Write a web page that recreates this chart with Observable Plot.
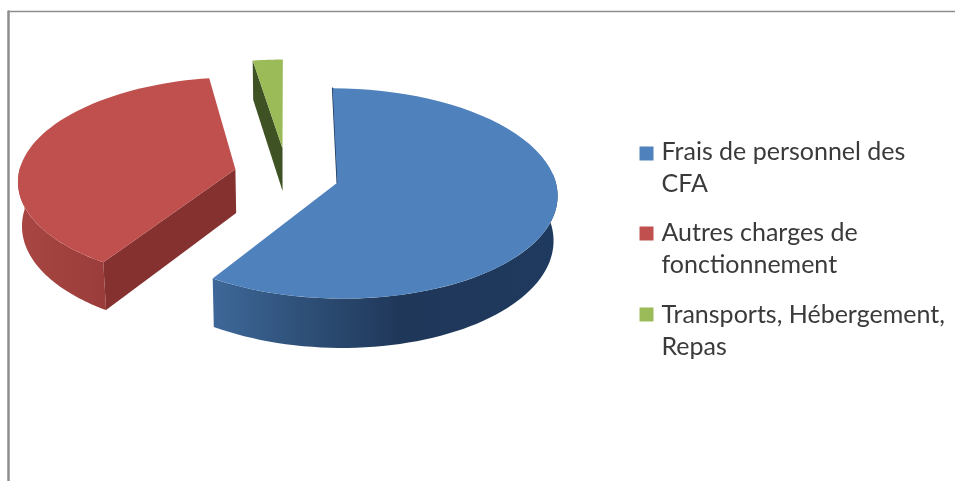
<!DOCTYPE html>
<html><head><meta charset="utf-8">
<script src="https://cdn.jsdelivr.net/npm/d3@7"></script>
<script src="https://cdn.jsdelivr.net/npm/@observablehq/plot@0.6"></script>
<style>html,body{margin:0;padding:0;background:#fff}svg{display:block;filter:blur(0.5px)}</style>
</head><body><div id="chart"></div>
<script>
const categories = ["Frais de personnel des\nCFA", "Autres charges de\nfonctionnement", "Transports, Hébergement,\nRepas"];
const shares = [59.1, 38.4, 2.5];
const topColors = ["#4f81bd", "#c0504d", "#9bbb59"];

// Camera of the 3D pie: a disk seen in perspective
const view = {cx: 286, cy: 174.5, ax: 217, ky: 102.5, p: 0.10, depth: 44, shrink: 0.985, ex: 0.242, ey: 0.27};
const legendX = 646, legendTextX = 661, legendY = [153, 233, 314], legendTextY = [154, 235, 317];

const total = d3.sum(shares);
let acc = 0;
const slices = shares.map((v, i) => {
  const a = acc / total * 360; acc += v; const b = acc / total * 360;
  return {i, a, b, mid: (a + b) / 2};
});
const rad = d => d * Math.PI / 180;
function pt(s, deg, r, z) {
  const X = view.ex * Math.sin(rad(s.mid)) + r * Math.sin(rad(deg));
  const Y = -view.ey * Math.cos(rad(s.mid)) - r * Math.cos(rad(deg));
  const w = 1 - view.p * Y;
  let x = view.ax * X / w, y = view.cy + view.ky * Y / w;
  if (z) { x *= view.shrink; y += view.depth / w; }
  return {x: view.cx + x, y};
}
const arc = (s, a, b, z) => d3.range(0, 61).map(k => pt(s, a + (b - a) * k / 60, 1, z));
const topFace = s => [pt(s, 0, 0, 0), ...arc(s, s.a, s.b, 0)];
const outerSide = (s, a, b) => [...arc(s, a, b, 0), ...arc(s, a, b, 1).reverse()];
const radial = (s, deg) => [pt(s, deg, 0, 0), pt(s, deg, 1, 0), pt(s, deg, 1, 1), pt(s, deg, 0, 1)];
const [blue, red, green] = slices;

const defs = () => {
  const svg = d3.create("svg:defs");
  const grad = (id, stops) => {
    const g = svg.append("linearGradient").attr("id", id).attr("x1", 0).attr("x2", 1).attr("y1", 0).attr("y2", 0);
    stops.forEach(([o, c]) => g.append("stop").attr("offset", o).attr("stop-color", c));
  };
  grad("blueSide", [[0, "#3e6899"], [0.25, "#2f5179"], [0.55, "#1f3759"], [1, "#1f3a5f"]]);
  grad("redSide", [[0, "#a84643"], [1, "#9a3d3a"]]);
  return svg.node();
};
const poly = (pts, fill) => Plot.line(pts, {x: "x", y: "y", fill, stroke: "none", curve: "linear"});

const frameTop = [{x: 8, y: 11}, {x: 955, y: 11}];
const frameLeft = [{x: 8, y: 11}, {x: 8, y: 481}];
const legend = categories.map((label, i) => ({label, color: topColors[i], y: legendY[i], ty: legendTextY[i]}));

const plot = Plot.plot({
  width: 955, height: 481, margin: 0,
  x: {domain: [0, 955], range: [0, 955], axis: null},
  y: {domain: [0, 481], range: [0, 481], axis: null},
  style: {background: "#fff", fontFamily: "Lato, Carlito, sans-serif"},
  marks: [
    defs,
    Plot.line(frameTop, {x: "x", y: "y", stroke: "#8e8e8e", strokeWidth: 1.5}),
    Plot.line(frameLeft, {x: "x", y: "y", stroke: "#8e8e8e", strokeWidth: 2.5}),
    // green slice
    poly(radial(green, green.a), "#3f5223"),
    poly(topFace(green), topColors[2]),
    // red slice
    poly(outerSide(red, red.a, 272), "url(#redSide)"),
    poly(radial(red, red.a), "#85312f"),
    poly(topFace(red), topColors[1]),
    // blue slice
    Plot.line([pt(blue, 0, 1, 0), pt(blue, 0, 0, 0)], {x: "x", y: "y", stroke: "#1f3759", strokeWidth: 1.5}),
    poly(outerSide(blue, 85, blue.b), "url(#blueSide)"),
    poly(topFace(blue), topColors[0]),
    // legend
    Plot.dot(legend, {x: () => legendX, y: "y", r: 7.9, symbol: "square", fill: "color", stroke: "none"}),
    Plot.text(legend, {x: () => legendTextX, y: "ty", text: "label", textAnchor: "start", lineAnchor: "top", dy: -17, fontSize: 25, lineHeight: 1.28, fill: "#3a3a3a"})
  ]
});
document.getElementById("chart").append(plot);
</script></body></html>
